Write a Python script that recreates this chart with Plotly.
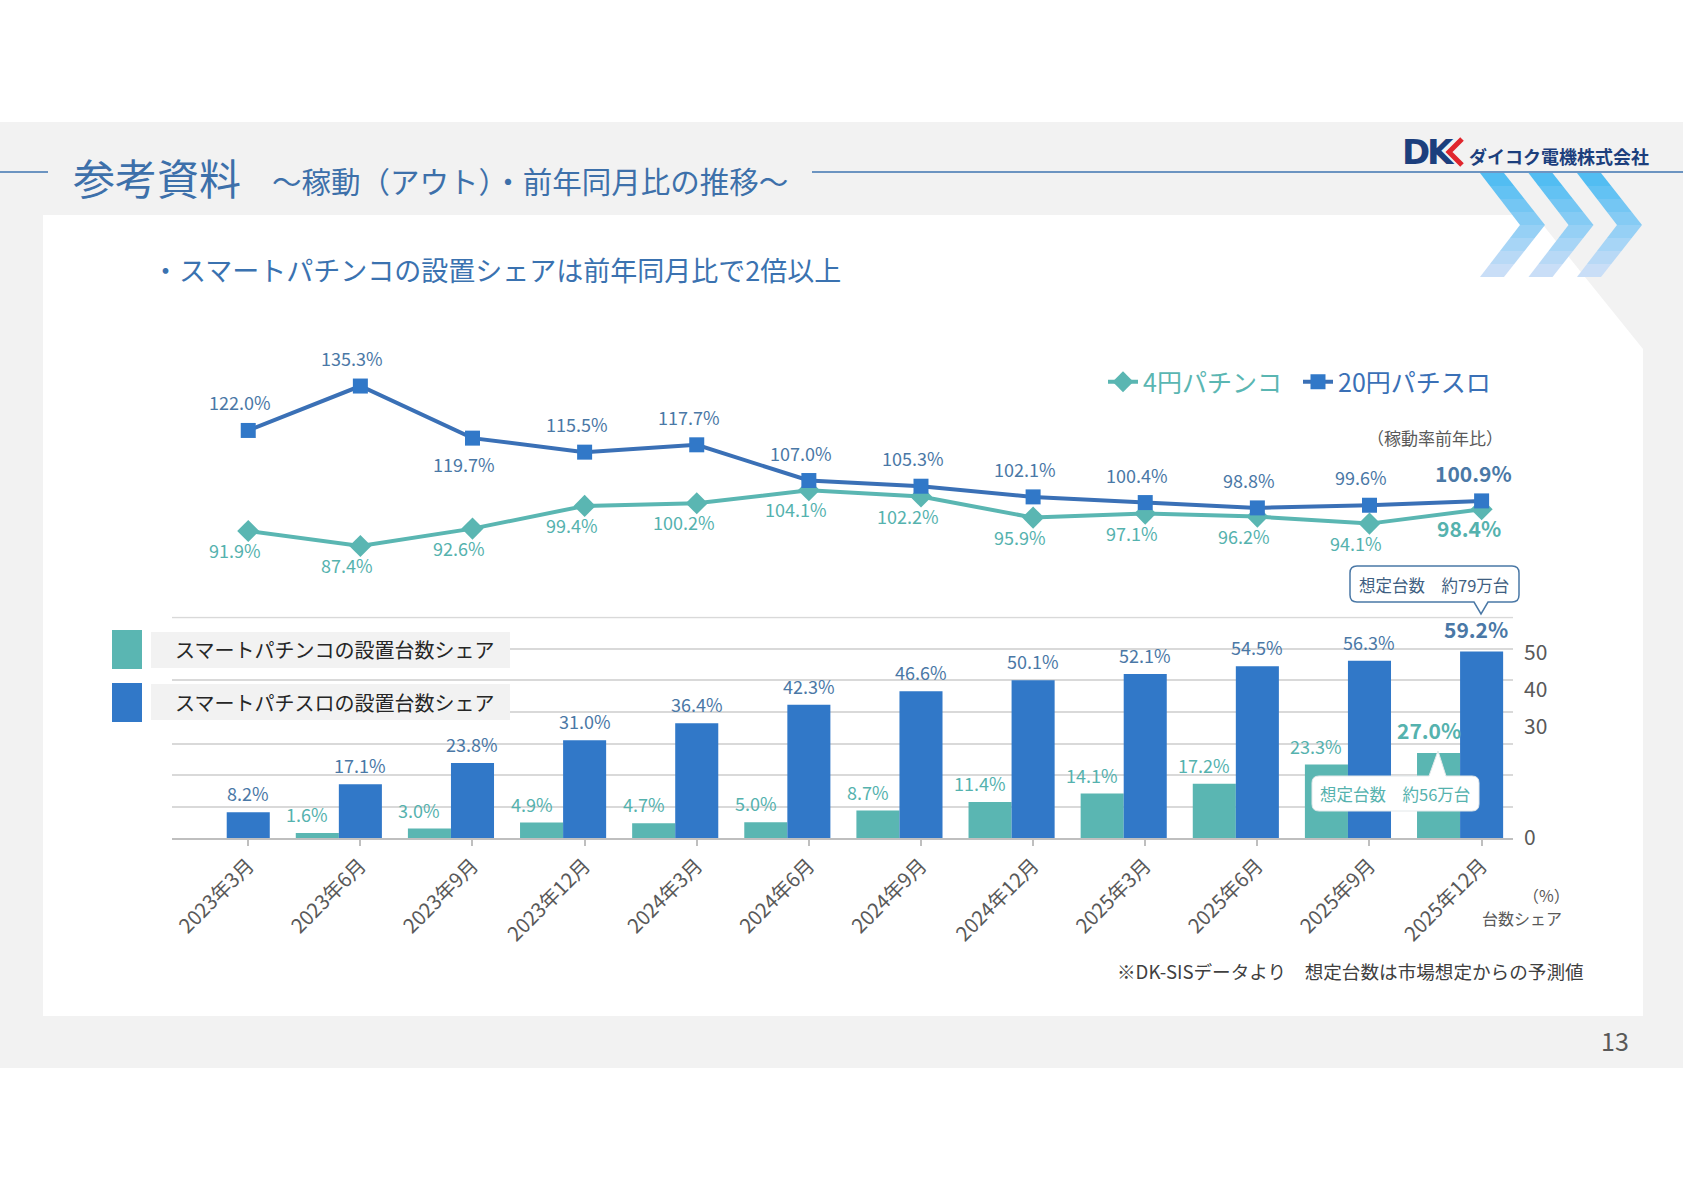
import plotly.graph_objects as go

W, H = 1683, 1190
FONT = "Noto Sans CJK JP"

# ---------------- data ----------------
categories = ["2023年3月", "2023年6月", "2023年9月", "2023年12月", "2024年3月", "2024年6月",
              "2024年9月", "2024年12月", "2025年3月", "2025年6月", "2025年9月", "2025年12月"]
pachinko_yoy = [91.9, 87.4, 92.6, 99.4, 100.2, 104.1, 102.2, 95.9, 97.1, 96.2, 94.1, 98.4]
pachislot_yoy = [122.0, 135.3, 119.7, 115.5, 117.7, 107.0, 105.3, 102.1, 100.4, 98.8, 99.6, 100.9]
pachislot_label_side = ["above", "above", "below", "above", "above", "above",
                        "above", "above", "above", "above", "above", "above"]
smart_pachinko_share = [None, 1.6, 3.0, 4.9, 4.7, 5.0, 8.7, 11.4, 14.1, 17.2, 23.3, 27.0]
smart_pachislot_share = [8.2, 17.1, 23.8, 31.0, 36.4, 42.3, 46.6, 50.1, 52.1, 54.5, 56.3, 59.2]
right_axis_ticks = [0, 30, 40, 50]

# ---------------- colours ----------------
TEAL = "#5ab6b2"
BLUE = "#3178c8"
BLUE_LINE = "#3a70b6"
BLUE_LABEL = "#4a78a6"
TEAL_LABEL = "#55b2ae"
GRAY_TXT = "#595959"
TITLE_BLUE = "#3d70aa"


def px(x):
    return x / W


def py(y):
    return 1 - y / H


xs = list(range(len(categories)))
BW = 0.384  # bar width in category units

fig = go.Figure()

# bars
fig.add_trace(go.Bar(x=xs, y=smart_pachinko_share, name="スマートパチンコの設置台数シェア",
                     marker=dict(color=TEAL, line=dict(width=0)), width=BW, offset=-1.5 * BW,
                     showlegend=False, hoverinfo="skip"))
fig.add_trace(go.Bar(x=xs, y=smart_pachislot_share, name="スマートパチスロの設置台数シェア",
                     marker=dict(color=BLUE, line=dict(width=0)), width=BW, offset=-0.5 * BW,
                     showlegend=False, hoverinfo="skip"))

# lines
fig.add_trace(go.Scatter(x=xs, y=pachinko_yoy, yaxis="y3", mode="lines+markers",
                         name="<span style='color:%s'>4円パチンコ</span>" % TEAL,
                         line=dict(color=TEAL, width=4),
                         marker=dict(symbol="diamond", size=17, color=TEAL), cliponaxis=False))
fig.add_trace(go.Scatter(x=xs, y=pachislot_yoy, yaxis="y3", mode="lines+markers",
                         name="<span style='color:%s'>20円パチスロ</span>" % BLUE_LINE,
                         line=dict(color=BLUE_LINE, width=4),
                         marker=dict(symbol="square", size=15, color=BLUE), cliponaxis=False))

annotations = []
shapes = []

# line labels
n = len(categories)
for i, v in enumerate(pachislot_yoy):
    last = i == n - 1
    up = pachislot_label_side[i] == "above"
    annotations.append(dict(x=xs[i], y=v, xref="x", yref="y3", text=("<b>%.1f%%</b>" if last else "%.1f%%") % v,
                            showarrow=False, yshift=28 if up else -26, xshift=-8,
                            font=dict(family=FONT, size=21 if last else 18, color=BLUE_LABEL)))
for i, v in enumerate(pachinko_yoy):
    last = i == n - 1
    annotations.append(dict(x=xs[i], y=v, xref="x", yref="y3", text=("<b>%.1f%%</b>" if last else "%.1f%%") % v,
                            showarrow=False, yshift=-19, xshift=-13,
                            font=dict(family=FONT, size=21 if last else 18, color=TEAL_LABEL)))

# bar labels
for i, v in enumerate(smart_pachislot_share):
    last = i == n - 1
    annotations.append(dict(x=xs[i], y=v, xref="x", yref="y", text=("<b>%.1f%%</b>" if last else "%.1f%%") % v,
                            showarrow=False, yanchor="bottom", yshift=4 if not last else 6,
                            xshift=-6 if last else 0,
                            font=dict(family=FONT, size=21 if last else 18, color=BLUE_LABEL)))
for i, v in enumerate(smart_pachinko_share):
    if v is None:
        continue
    last = i == n - 1
    annotations.append(dict(x=xs[i] - BW, y=v, xref="x", yref="y", text=("<b>%.1f%%</b>" if last else "%.1f%%") % v,
                            showarrow=False, yanchor="bottom", yshift=6 if last else 4, xshift=-10,
                            font=dict(family=FONT, size=21 if last else 18, color=TEAL_LABEL)))

# ---------------- page decoration ----------------
shapes.append(dict(type="rect", xref="paper", yref="paper", x0=0, x1=1, y0=py(1068), y1=py(122),
                   fillcolor="#f2f2f2", line=dict(width=0), layer="below"))
panel = [(43, 215), (1535, 215), (1643, 349), (1643, 1016), (43, 1016)]
path = "M " + " L ".join("%f,%f" % (px(a), py(b)) for a, b in panel) + " Z"
shapes.append(dict(type="path", xref="paper", yref="paper", path=path, fillcolor="white",
                   line=dict(width=0), layer="below"))

# header lines
for x0, x1 in [(0, 48), (812, W)]:
    shapes.append(dict(type="line", xref="paper", yref="paper", x0=px(x0), x1=px(x1), y0=py(172), y1=py(172),
                       line=dict(color="#3f74b0", width=1.5), layer="below"))

# chevrons with a vertical fade
top_c = (74, 187, 242)
bot_c = (210, 225, 248)
bands = [173, 186, 199, 212, 225, 238, 251, 264, 277]
for k in range(3):
    dx = 48.5 * k
    in_top, out_top, in_tip, out_tip = 1480 + dx, 1504 + dx, 1520 + dx, 1545 + dx

    def edge(y, a, b):
        t = abs(y - 225) / 52.0
        return b + (a - b) * t

    for j in range(len(bands) - 1):
        y0, y1 = bands[j], bands[j + 1]
        t = (j + 0.5) / (len(bands) - 1)
        col = tuple(int(top_c[c] + (bot_c[c] - top_c[c]) * t) for c in range(3))
        pts = [(edge(y0, in_top, in_tip), y0), (edge(y0, out_top, out_tip), y0),
               (edge(y1, out_top, out_tip), y1), (edge(y1, in_top, in_tip), y1)]
        p = "M " + " L ".join("%f,%f" % (px(a), py(b)) for a, b in pts) + " Z"
        shapes.append(dict(type="path", xref="paper", yref="paper", path=p,
                           fillcolor="rgb(%d,%d,%d)" % col, line=dict(width=0), layer="below"))

# logo
annotations.append(dict(xref="paper", yref="paper", x=px(1400), y=py(152), xanchor="left", yanchor="middle",
                        text="<b>D</b>", showarrow=False,
                        font=dict(family="DejaVu Sans", size=34, color="#1c3f7d")))
annotations.append(dict(xref="paper", yref="paper", x=px(1425), y=py(152), xanchor="left", yanchor="middle",
                        text="<b>K</b>", showarrow=False,
                        font=dict(family="DejaVu Sans", size=34, color="#1c3f7d")))
shapes.append(dict(type="path", xref="paper", yref="paper",
                   path="M %f,%f L %f,%f L %f,%f" % (px(1462), py(139), px(1449), py(152), px(1462), py(165)),
                   line=dict(color="#e0262d", width=5), layer="above"))
annotations.append(dict(xref="paper", yref="paper", x=px(1467), y=py(156), xanchor="left", yanchor="middle",
                        text="<b>ダイコク電機株式会社</b>", showarrow=False,
                        font=dict(family=FONT, size=18, color="#1c3f7d")))

# titles
annotations.append(dict(xref="paper", yref="paper", x=px(71), y=py(176), xanchor="left", yanchor="middle",
                        text="参考資料", showarrow=False, font=dict(family=FONT, size=42, color=TITLE_BLUE)))
annotations.append(dict(xref="paper", yref="paper", x=px(270), y=py(180), xanchor="left", yanchor="middle",
                        text="～稼動（アウト）・前年同月比の推移～", showarrow=False,
                        font=dict(family=FONT, size=29.5, color=TITLE_BLUE)))
annotations.append(dict(xref="paper", yref="paper", x=px(150), y=py(270), xanchor="left", yanchor="middle",
                        text="・スマートパチンコの設置シェアは前年同月比で2倍以上", showarrow=False,
                        font=dict(family=FONT, size=27, color="#3a72b0")))
annotations.append(dict(xref="paper", yref="paper", x=px(1505), y=py(437), xanchor="right", yanchor="middle",
                        text="（稼動率前年比）", showarrow=False, font=dict(family=FONT, size=17, color=GRAY_TXT)))

# bar legend (manual)
for (ys0, ys1, yb0, yb1, col, label) in [
        (630, 669, 632, 668, TEAL, "スマートパチンコの設置台数シェア"),
        (683, 722, 684, 720, BLUE, "スマートパチスロの設置台数シェア")]:
    shapes.append(dict(type="rect", xref="paper", yref="paper", x0=px(112), x1=px(142), y0=py(ys1), y1=py(ys0),
                       fillcolor=col, line=dict(width=0), layer="above"))
    shapes.append(dict(type="rect", xref="paper", yref="paper", x0=px(151), x1=px(510), y0=py(yb1), y1=py(yb0),
                       fillcolor="#f2f2f2", line=dict(width=0), layer="above"))
    annotations.append(dict(xref="paper", yref="paper", x=px(173), y=py((yb0 + yb1) / 2), xanchor="left",
                            yanchor="middle", text=label, showarrow=False,
                            font=dict(family=FONT, size=20, color="#262626")))


# callouts
def rounded_box(x0, y0, x1, y1, r, ptr=None):
    # ptr = (side, base_x0, base_x1, tip_x, tip_y)
    seg = ["M %f,%f" % (px(x0 + r), py(y0))]
    if ptr and ptr[0] == "top":
        seg += ["L %f,%f" % (px(ptr[1]), py(y0)), "L %f,%f" % (px(ptr[3]), py(ptr[4])),
                "L %f,%f" % (px(ptr[2]), py(y0))]
    seg += ["L %f,%f" % (px(x1 - r), py(y0)), "Q %f,%f %f,%f" % (px(x1), py(y0), px(x1), py(y0 + r)),
            "L %f,%f" % (px(x1), py(y1 - r)), "Q %f,%f %f,%f" % (px(x1), py(y1), px(x1 - r), py(y1))]
    if ptr and ptr[0] == "bottom":
        seg += ["L %f,%f" % (px(ptr[2]), py(y1)), "L %f,%f" % (px(ptr[3]), py(ptr[4])),
                "L %f,%f" % (px(ptr[1]), py(y1))]
    seg += ["L %f,%f" % (px(x0 + r), py(y1)), "Q %f,%f %f,%f" % (px(x0), py(y1), px(x0), py(y1 - r)),
            "L %f,%f" % (px(x0), py(y0 + r)), "Q %f,%f %f,%f" % (px(x0), py(y0), px(x0 + r), py(y0)), "Z"]
    return " ".join(seg)


shapes.append(dict(type="path", xref="paper", yref="paper",
                   path=rounded_box(1350, 566, 1519, 602, 7, ("bottom", 1474, 1488, 1481, 614)),
                   fillcolor="white", line=dict(color="#4a78a6", width=1.5), layer="above"))
annotations.append(dict(xref="paper", yref="paper", x=px(1434), y=py(585), xanchor="center", yanchor="middle",
                        text="想定台数　約79万台", showarrow=False, font=dict(family=FONT, size=16.5, color="#3f5f82")))
shapes.append(dict(type="path", xref="paper", yref="paper",
                   path=rounded_box(1312, 776, 1479, 811, 7, ("top", 1429, 1446, 1438, 751)),
                   fillcolor="white", line=dict(color="#e3e8ea", width=1), layer="above"))
annotations.append(dict(xref="paper", yref="paper", x=px(1395), y=py(794), xanchor="center", yanchor="middle",
                        text="想定台数　約56万台", showarrow=False, font=dict(family=FONT, size=16.5, color=TEAL_LABEL)))

# axis notes, footnote, page number
annotations.append(dict(xref="paper", yref="paper", x=px(1546), y=py(895), xanchor="center", yanchor="middle",
                        text="（%）", showarrow=False, font=dict(family=FONT, size=16, color=GRAY_TXT)))
annotations.append(dict(xref="paper", yref="paper", x=px(1522), y=py(918), xanchor="center", yanchor="middle",
                        text="台数シェア", showarrow=False, font=dict(family=FONT, size=16, color=GRAY_TXT)))
annotations.append(dict(xref="paper", yref="paper", x=px(1586), y=py(970), xanchor="right", yanchor="middle",
                        text="※DK-SISデータより　想定台数は市場想定からの予測値", showarrow=False,
                        font=dict(family=FONT, size=18.6, color="#404040")))
annotations.append(dict(xref="paper", yref="paper", x=px(1615), y=py(1040), xanchor="center", yanchor="middle",
                        text="13", showarrow=False, font=dict(family=FONT, size=25, color=GRAY_TXT)))

# ---------------- axes ----------------
x_lo, x_hi = -0.68, 11.28
bar_px_per_unit = 3.15
bar_top = 70.3
grid_top = 70
bar_dom = [py(838), py(838 - bar_top * bar_px_per_unit)]
right_px_per_unit = 3.7
right_top = (bar_top * bar_px_per_unit) / right_px_per_unit

# top gridline (at the range edge) drawn explicitly so it is never dropped
shapes.append(dict(type="line", xref="x domain", yref="y", x0=0, x1=1, y0=grid_top, y1=grid_top,
                   line=dict(color="#d9d9d9", width=1.5), layer="below"))

fig.update_layout(
    width=W, height=H, autosize=False,
    margin=dict(l=0, r=0, t=0, b=0, autoexpand=False),
    paper_bgcolor="white", plot_bgcolor="rgba(0,0,0,0)",
    barmode="overlay",
    font=dict(family=FONT, color=GRAY_TXT),
    xaxis=dict(domain=[px(172), px(1513)], range=[x_lo, x_hi], tickmode="array", tickvals=xs,
               ticktext=categories, tickangle=-45, tickfont=dict(family=FONT, size=20, color=GRAY_TXT),
               showgrid=False, zeroline=False, showline=True, linecolor="#bfbfbf", linewidth=2,
               ticks="outside", ticklen=6, tickcolor="#bfbfbf", tickwidth=1.5, anchor="y",
               automargin=False, fixedrange=True),
    yaxis=dict(domain=bar_dom, range=[0, bar_top], tickmode="linear", tick0=0, dtick=10,
               showticklabels=False, showgrid=True,
               gridcolor="#d9d9d9", gridwidth=1.5, zeroline=False, showline=False, anchor="x",
               automargin=False),
    yaxis2=dict(overlaying="y", side="right", range=[0, right_top], tickmode="array",
                tickvals=right_axis_ticks, showgrid=False, zeroline=False, showline=False,
                tickfont=dict(family=FONT, size=21, color=GRAY_TXT), anchor="x", ticklabelstandoff=10,
                automargin=False),
    yaxis3=dict(domain=[py(560), py(360)], range=[83.2, 143.1], visible=False, anchor="x",
                automargin=False),
    legend=dict(x=px(1103), y=py(382), xanchor="left", yanchor="middle", orientation="h",
                font=dict(family=FONT, size=25), bgcolor="rgba(0,0,0,0)", itemclick=False,
                entrywidth=150, entrywidthmode="pixels"),
    shapes=shapes,
    annotations=annotations,
)
# dummy trace so the right axis renders
fig.add_trace(go.Scatter(x=[None], y=[None], yaxis="y2", showlegend=False, hoverinfo="skip"))

fig.write_html("out.html")
